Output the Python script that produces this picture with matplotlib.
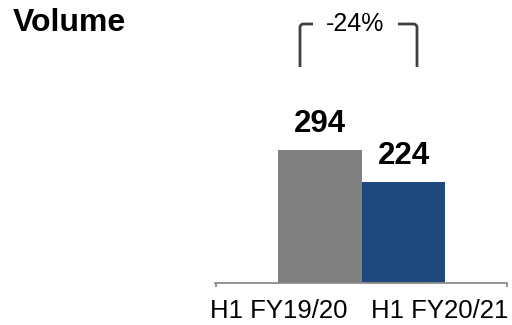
import matplotlib
matplotlib.use("Agg")
import matplotlib.pyplot as plt
import numpy as np

plt.rcParams['font.family'] = ['Liberation Sans', 'DejaVu Sans']

title = "Volume"
categories = ["H1 FY19/20", "H1 FY20/21"]
values = [294, 224]
colors = ["#808080", "#1F497D"]
change_label = "-24%"

W, H, DPI = 512, 325, 100
fig = plt.figure(figsize=(W / DPI, H / DPI), dpi=DPI)

# Bar axes: pixel extents within the figure
ax_left, ax_right, ax_base, ax_top = 215, 507, 283, 0
ax = fig.add_axes([ax_left / W, (H - ax_base) / H,
                   (ax_right - ax_left) / W, (ax_base - ax_top) / H])
x = np.arange(len(values))
ax.bar(x, values, width=1.0, color=colors, edgecolor="none")
ax.set_xlim(-1.257, 2.24)
ax.set_ylim(0, 625)
for side in ("top", "right", "left"):
    ax.spines[side].set_visible(False)
ax.spines["bottom"].set_color("#8c8c8c")
ax.spines["bottom"].set_linewidth(1.3)
ax.set_xticks([])
ax.set_yticks([])
ax.patch.set_alpha(0)

for xi, v in zip(x, values):
    ax.annotate(str(v), (xi, v), xytext=(0, 13), textcoords="offset points",
                ha="center", va="baseline", fontsize=22.5, fontweight="bold",
                color="black")

# Overlay in pixel coordinates for the annotations around the chart
ov = fig.add_axes([0, 0, 1, 1])
ov.set_xlim(0, W)
ov.set_ylim(H, 0)
ov.axis("off")
ov.patch.set_alpha(0)

# small end ticks on the baseline
for px in (ax_left + 0.5, ax_right - 0.5):
    ov.plot([px, px], [ax_base, ax_base + 3.5], color="#8c8c8c", lw=1.3,
            solid_capstyle="butt")

ov.text(13, 23, title, fontsize=23, fontweight="bold", ha="left",
        va="center", color="black")

label_x = [278.5, 439.5]
for lx, lab in zip(label_x, categories):
    ov.text(lx, 311, lab, fontsize=18.5, ha="center", va="center",
            color="black")


def corner(x0, y0, x1, y1, r, side):
    """Bracket arm: vertical from (x0,y0) up to y1, rounded, then horizontal to x1."""
    t = np.linspace(0, np.pi / 2, 8)
    sgn = 1 if side == "left" else -1
    cx, cy = x0 + sgn * r, y1 + r
    arc_x = cx - sgn * r * np.cos(t)
    arc_y = cy - r * np.sin(t)
    xs = np.concatenate([[x0], arc_x, [x1]])
    ys = np.concatenate([[y0], arc_y, [y1]])
    return xs, ys


# bracket showing the change
bc = "#404040"
xs, ys = corner(300, 67, 313, 24, 3.5, "left")
ov.plot(xs, ys, color=bc, lw=2.0, solid_joinstyle="round",
        solid_capstyle="butt")
xs, ys = corner(417, 67, 398, 24, 3.5, "right")
ov.plot(xs, ys, color=bc, lw=2.0, solid_joinstyle="round",
        solid_capstyle="butt")
ov.text(355.5, 24, change_label, fontsize=18, ha="center", va="center",
        color="black")

fig.savefig("out.png", dpi=DPI, facecolor="white")
